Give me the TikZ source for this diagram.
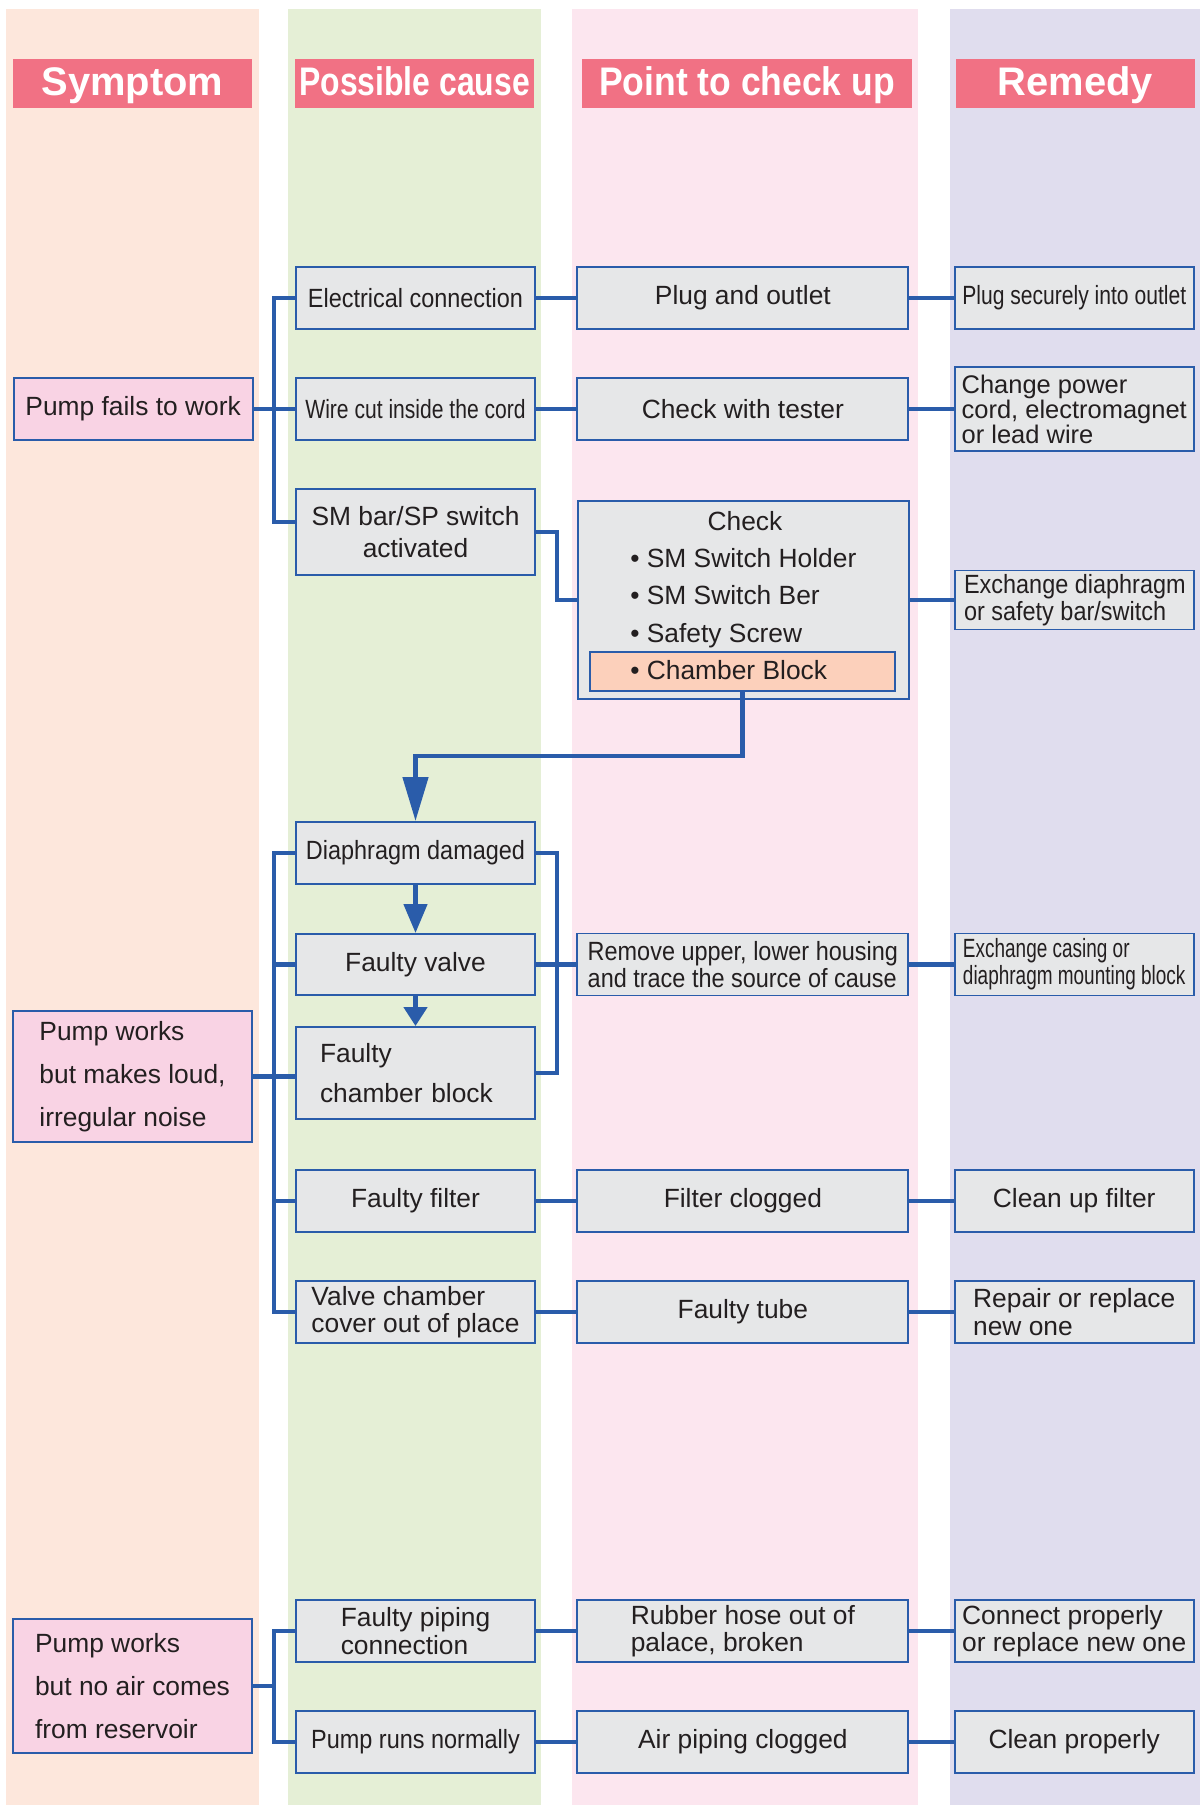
\documentclass[tikz,border=0pt]{standalone}
\usepackage{fontspec}
\setmainfont{Liberation Sans}
\newfontfamily\condfam[FakeStretch=0.8]{Liberation Sans}
\newfontfamily\semifam[FakeStretch=0.89]{Liberation Sans}
\newfontfamily\narrowfam[FakeStretch=0.72]{Liberation Sans}
\usepackage{xcolor}
\usetikzlibrary{positioning,arrows.meta}
\definecolor{tsblue}{RGB}{42,92,170}
\definecolor{tsgrey}{RGB}{230,231,232}
\definecolor{tspink}{RGB}{249,211,228}
\definecolor{tspeach}{RGB}{252,208,187}
\definecolor{tshead}{RGB}{241,113,132}
\definecolor{tstext}{RGB}{35,31,32}
\definecolor{symband}{RGB}{253,231,220}
\definecolor{causeband}{RGB}{229,239,214}
\definecolor{checkband}{RGB}{252,230,239}
\definecolor{remband}{RGB}{224,221,238}
\newcommand{\tssize}{\fontsize{15}{15.5}\selectfont}
\newcommand{\tshead}{\fontsize{22.7}{24}\selectfont\bfseries}
\tikzset{
  head/.style={fill=tshead, text=white, minimum width=4.78cm, minimum height=0.98cm, inner sep=0pt, text depth=0.08cm, font=\tshead},
  box/.style={draw=tsblue, line width=1.1pt, fill=tsgrey, text=tstext, align=left, minimum width=4.78cm, minimum height=1.24cm, inner sep=1pt, font=\tssize},
  chkwide/.style={minimum width=6.62cm},
  symbox/.style={box, fill=tspink},
  semitxt/.style={font=\tssize\semifam},
  condtxt/.style={font=\tssize\condfam},
  narrowtxt/.style={font=\tssize\narrowfam},
  link/.style={tsblue, line width=2.6pt},
  arrow/.style={link, -{Triangle[length=0.58cm, width=0.46cm]}}
}
\begin{document}
\begin{tikzpicture}[x=0.02cm, y=-0.02cm, node distance=0.81cm]
    \useasboundingbox (0,0) rectangle (1200,1805);
    \fill[symband] (6,9) rectangle (259,1805);
    \fill[causeband] (288,9) rectangle (541,1805);
    \fill[checkband] (572,9) rectangle (918,1805);
    \fill[remband] (950,9) rectangle (1200,1805);
    \node[head] (hsym) at (132.5,83.5) {Symptom};
    \node[head, font=\tshead\condfam] (hcause) at (414.5,83.5) {Possible cause};
    \node[head, minimum width=6.6cm, font=\tshead\semifam] (hcheck) at (747,83.5) {Point to check up};
    \node[head] (hrem) at (1075.5,83.5) {Remedy};
    \coordinate (bus1) at (274,0);
    \coordinate (rbus) at (557,0);
    \node[box, semitxt] (elec) at (415.5,298) {Electrical connection};
    \node[box, condtxt] (wirecut) at (415.5,409) {Wire cut inside the cord};
    \node[box, align=center, minimum height=1.72cm, font=\fontsize{15}{18}\selectfont] (smbar) at (415.5,532) {SM bar/SP switch\\activated};
    \node[symbox, left=0.83cm of wirecut] (fails) {Pump fails to work};
    \node[box, chkwide, right=of elec] (plug) {Plug and outlet};
    \node[box, chkwide, right=of wirecut] (tester) {Check with tester};
    \node[box, chkwide, minimum height=3.96cm] (chk) at (743.5,600) {};
    \node[box, fill=tspeach, minimum width=6.1cm, minimum height=0.78cm] (chamber) at (742.5,671.5) {};
    \node[text=tstext, font=\tssize] (chktitle) at (745,521) {Check};
    \node[anchor=west, align=left, inner sep=0pt, text=tstext, font=\fontsize{15}{21.3}\selectfont] (chklist) at (630,614) {• SM Switch Holder\\• SM Switch Ber\\• Safety Screw\\• Chamber Block};
    \node[box, condtxt, right=0.89cm of plug] (plugrem) {Plug securely into outlet};
    \node[box, minimum height=1.68cm, font=\fontsize{14.5}{14.2}\selectfont, right=0.89cm of tester] (powerrem) {Change power\\cord, electromagnet\\or lead wire};
    \node[box, semitxt, minimum height=1.18cm, right=0.89cm of chk] (exch) {Exchange diaphragm\\or safety bar/switch};
    \node[box, semitxt] (diaph) at (415.5,853) {Diaphragm damaged};
    \node[box, minimum height=1.22cm] (valve) at (415.5,964.5) {Faulty valve};
    \node[box, minimum height=1.84cm, text width=3.82cm, font=\fontsize{15}{22.7}\selectfont] (chblock) at (415.5,1073) {Faulty\\chamber block};
    \node[symbox, minimum height=2.62cm, font=\fontsize{15}{24.4}\selectfont] (noise) at (132.5,1076.5) {Pump works\\but makes loud,\\irregular noise};
    \node[box, chkwide, semitxt, right=of valve] (remove) {Remove upper, lower housing\\and trace the source of cause};
    \node[box, narrowtxt, right=0.89cm of remove] (casing) {Exchange casing or\\diaphragm mounting block};
    \node[box] (filter) at (415.5,1201) {Faulty filter};
    \node[box, chkwide, right=of filter] (clogged) {Filter clogged};
    \node[box, right=0.89cm of clogged] (cleanf) {Clean up filter};
    \node[box] (cover) at (415.5,1312) {Valve chamber\\cover out of place};
    \node[box, chkwide, right=of cover] (tube) {Faulty tube};
    \node[box, right=0.89cm of tube] (repair) {Repair or replace\\new one};
    \node[box] (piping) at (415.5,1631) {Faulty piping\\connection};
    \node[box, semitxt] (runs) at (415.5,1742) {Pump runs normally};
    \node[symbox, minimum height=2.68cm, font=\fontsize{15}{24.4}\selectfont] (noair) at (132.5,1686) {Pump works\\but no air comes\\from reservoir};
    \node[box, chkwide, right=of piping] (hose) {Rubber hose out of\\palace, broken};
    \node[box, chkwide, right=of runs] (airclog) {Air piping clogged};
    \node[box, right=0.89cm of hose] (connect) {Connect properly\\or replace new one};
    \node[box, right=0.89cm of airclog] (cleanp) {Clean properly};
    \draw[link] (elec.west) -- (elec.west -| bus1) |- ([yshift=0.2cm]smbar.west);
    \draw[link] (fails) -- (wirecut);
    \draw[link] (elec) -- (plug);
    \draw[link] (plug) -- (plugrem);
    \draw[link] (wirecut) -- (tester);
    \draw[link] (tester) -- (powerrem);
    \draw[link] (smbar.east) -- (smbar.east -| rbus) |- (chk.west);
    \draw[link] (chk) -- (exch);
    \draw[link, -{Triangle[length=0.88cm, width=0.5cm]}] (chamber.south) -- ++(0,64) -| (diaph.north);
    \draw[link] (diaph.west) -- (diaph.west -| bus1) |- (cover.west);
    \draw[link] (valve.west) -- (valve.west -| bus1);
    \draw[link] (filter.west) -- (filter.west -| bus1);
    \draw[link] (noise.east) -- (noise.east -| chblock.west);
    \draw[link] (diaph.east) -- (diaph.east -| rbus) |- (chblock.east);
    \draw[arrow] (diaph) -- (valve);
    \draw[link, -{Triangle[length=0.38cm, width=0.46cm]}] (valve) -- (chblock);
    \draw[link] (valve) -- (remove);
    \draw[link] (remove) -- (casing);
    \draw[link] (filter) -- (clogged);
    \draw[link] (clogged) -- (cleanf);
    \draw[link] (cover) -- (tube);
    \draw[link] (tube) -- (repair);
    \draw[link] (piping.west) -- (piping.west -| bus1) |- (runs.west);
    \draw[link] (noair.east) -- (noair.east -| bus1);
    \draw[link] (piping) -- (hose);
    \draw[link] (hose) -- (connect);
    \draw[link] (runs) -- (airclog);
    \draw[link] (airclog) -- (cleanp);
  \end{tikzpicture}
\end{document}
